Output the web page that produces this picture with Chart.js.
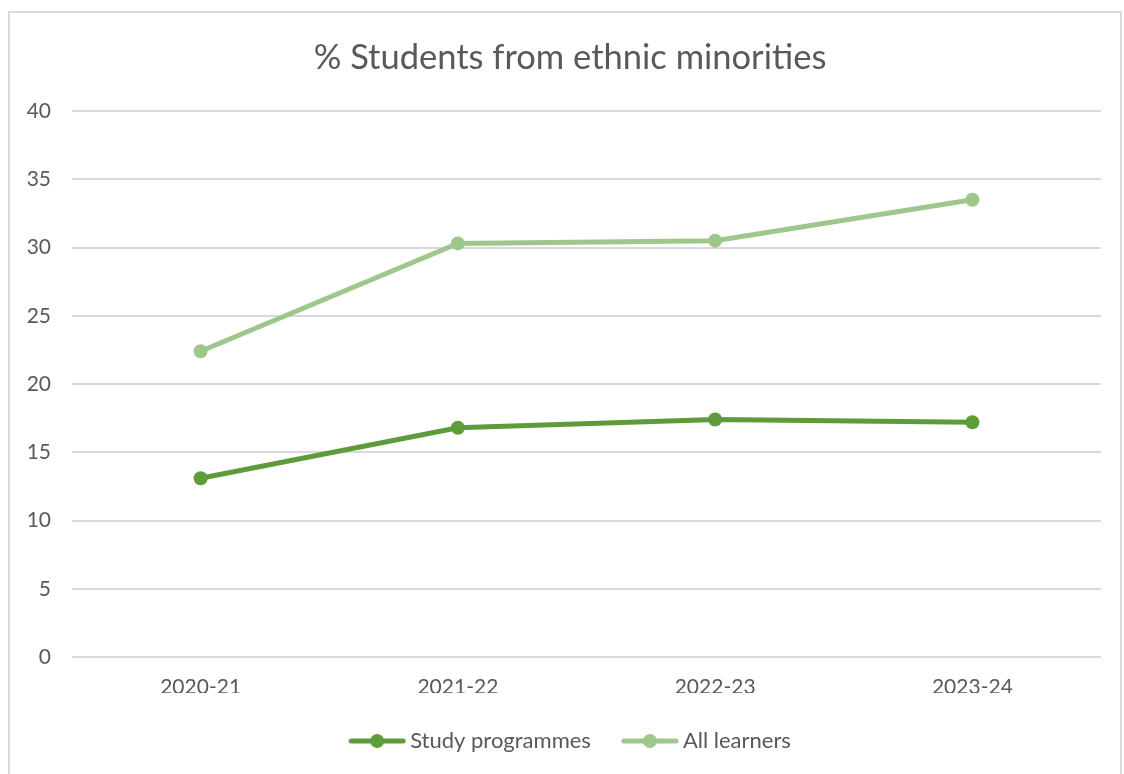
<!DOCTYPE html>
<html>
<head>
<meta charset="utf-8">
<script src="https://cdn.jsdelivr.net/npm/chart.js@4.4.1/dist/chart.umd.min.js"></script>
<style>
  html,body{margin:0;padding:0;background:#fff;}
  #wrap{position:absolute;left:0;top:0;width:1124px;height:774px;}
</style>
</head>
<body>
<div id="wrap"><canvas id="chart" width="1124" height="774"></canvas></div>
<script>
// % of students from ethnic minorities, by academic year
const years = ['2020-21', '2021-22', '2022-23', '2023-24'];
const studyProgrammes = [13.1, 16.8, 17.4, 17.2];
const allLearners = [22.4, 30.3, 30.5, 33.5];
const yTicks = [0, 5, 10, 15, 20, 25, 30, 35, 40];

const DARK = '#5e9b3b';
const LIGHT = '#9fc78c';
const TEXT = '#595959';
const FONT = 'Lato, "Open Sans", sans-serif';

// legend marker: a short thick line with a dot in the middle
function legendMarker(color){
  const c = document.createElement('canvas');
  c.width = 58; c.height = 16;
  const g = c.getContext('2d');
  g.strokeStyle = color; g.lineWidth = 5; g.lineCap = 'round';
  g.beginPath(); g.moveTo(3, 8); g.lineTo(55, 8); g.stroke();
  g.fillStyle = color;
  g.beginPath(); g.arc(29, 8, 7, 0, Math.PI*2); g.fill();
  return c;
}

// thin grey frame around the whole chart
const frame = {
  id: 'frame',
  afterDraw(chart){
    const ctx = chart.ctx;
    ctx.save();
    ctx.strokeStyle = '#d9d9d9';
    ctx.lineWidth = 2;
    ctx.strokeRect(9, 12, 1112, 775);
    ctx.restore();
  }
};

// centre title and legend on the plot area instead of the full canvas
const recentre = {
  id: 'recentre',
  afterLayout(chart){
    const shift = (box, dx) => { if (box) { box.left += dx; box.right += dx; } };
    shift(chart.titleBlock, 8);
    shift(chart.legend, 11);
  }
};

new Chart(document.getElementById('chart'), {
  type: 'line',
  data: {
    labels: years,
    datasets: [
      { label: 'Study programmes', data: studyProgrammes, borderColor: DARK, backgroundColor: DARK,
        borderWidth: 5, pointRadius: 7, pointHoverRadius: 7, pointBorderWidth: 0, tension: 0 },
      { label: 'All learners', data: allLearners, borderColor: LIGHT, backgroundColor: LIGHT,
        borderWidth: 5, pointRadius: 7, pointHoverRadius: 7, pointBorderWidth: 0, tension: 0 }
    ]
  },
  options: {
    responsive: false,
    animation: false,
    layout: { padding: { top: 37, right: 23, bottom: 12, left: 23 } },
    plugins: {
      title: {
        display: true,
        text: '% Students from ethnic minorities',
        color: TEXT,
        font: { family: FONT, size: 34.5, weight: 'normal' },
        padding: { top: 0, bottom: 32.6 }
      },
      legend: {
        position: 'bottom',
        labels: {
          color: TEXT,
          font: { family: FONT, size: 22 },
          usePointStyle: true,
          pointStyleWidth: 44,
          boxHeight: 16,
          padding: 37,
          generateLabels(chart){
            return chart.data.datasets.map((ds, i) => ({
              text: ds.label,
              pointStyle: legendMarker(ds.borderColor),
              fillStyle: ds.borderColor,
              strokeStyle: ds.borderColor,
              lineWidth: 0,
              fontColor: TEXT,
              hidden: false,
              datasetIndex: i
            }));
          }
        }
      },
      tooltip: { enabled: false }
    },
    scales: {
      x: {
        offset: true,
        afterFit(scale){ scale.height = 36; },
        grid: { display: false, drawTicks: false },
        border: { display: false },
        ticks: { color: TEXT, font: { family: FONT, size: 21 }, padding: 18 }
      },
      y: {
        min: 0,
        max: 40,
        afterBuildTicks(scale){ scale.ticks = yTicks.map(v => ({ value: v })); },
        afterFit(scale){ scale.width = 49; },
        grid: { color: '#d9d9d9', lineWidth: 2, drawTicks: false },
        border: { display: false },
        ticks: { color: TEXT, font: { family: FONT, size: 21 }, padding: 21 }
      }
    }
  },
  plugins: [frame, recentre]
});
</script>
</body>
</html>
